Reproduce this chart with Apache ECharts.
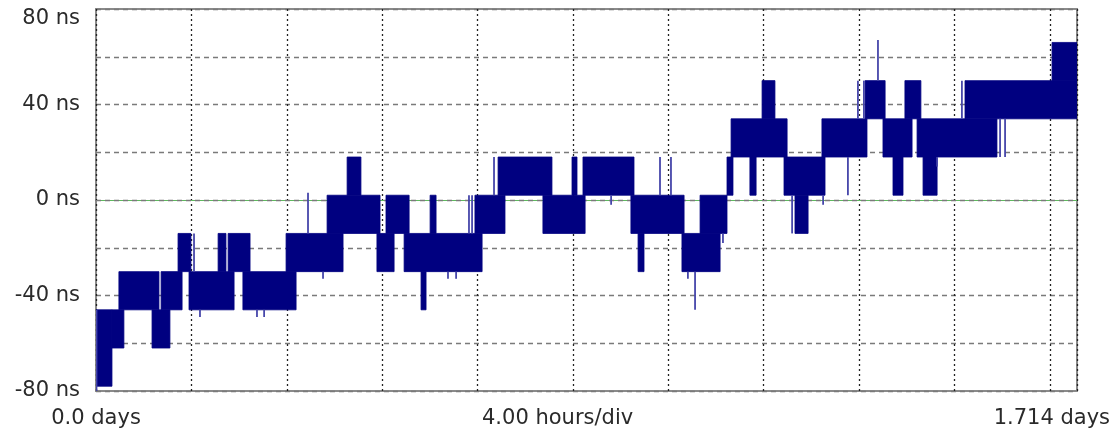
<!DOCTYPE html>
<html>
<head>
<meta charset="utf-8">
<script src="https://cdn.jsdelivr.net/npm/echarts@6/dist/echarts.min.js"></script>
<style>
  html, body { margin: 0; padding: 0; background: #fff; }
  #chart { width: 1116px; height: 435px; }
</style>
</head>
<body>
<div id="chart"></div>
<script>
// Time offset record: elapsed hours on x, offset in ns on y.
// The offset flips rapidly between two adjacent quantisation levels,
// so each dense run is kept as a band: [startHour, endHour, lowNs, highNs].
const spanHours = 41.136;          // 1.714 days
const hourTicks = 4;               // 4.00 hours/div
const yTickLabels = [-80, -40, 0, 40, 80];

const bands = [
  [0.00, 0.67, -78, -46],
  [0.67, 1.17, -62, -46],
  [0.96, 2.64, -46, -30],
  [2.35, 3.10, -62, -46],
  [2.73, 3.61, -46, -30],
  [3.44, 3.98, -30, -14],
  [3.90, 5.79, -46, -30],
  [5.12, 5.45, -30, -14],
  [5.54, 6.46, -30, -14],
  [6.16, 8.39, -46, -30],
  [7.97, 10.36, -30, -14],
  [9.69, 11.91, -14, 2],
  [10.53, 11.11, 2, 18],
  [11.78, 12.50, -30, -14],
  [12.16, 13.13, -14, 2],
  [12.92, 16.19, -30, -14],
  [13.63, 13.84, -46, -30],
  [14.01, 14.26, -14, 2],
  [15.89, 17.15, -14, 2],
  [16.86, 19.12, 2, 18],
  [18.74, 20.51, -14, 2],
  [19.96, 20.17, 2, 18],
  [20.42, 22.56, 2, 18],
  [22.43, 24.66, -14, 2],
  [22.73, 22.98, -30, -14],
  [24.57, 26.17, -30, -14],
  [25.33, 26.46, -14, 2],
  [26.46, 26.71, 2, 18],
  [26.63, 28.98, 18, 34],
  [27.93, 28.47, 34, 50],
  [27.42, 27.68, 2, 18],
  [28.85, 30.57, 2, 18],
  [29.31, 29.86, -14, 2],
  [30.44, 32.33, 18, 34],
  [32.25, 33.09, 34, 50],
  [33.00, 34.22, 18, 34],
  [33.42, 33.84, 2, 18],
  [33.92, 34.59, 34, 50],
  [34.43, 37.78, 18, 34],
  [34.68, 35.27, 2, 18],
  [36.44, 41.136, 34, 50],
  [40.09, 41.136, 50, 66]
];

// Isolated excursions: [hour, lowNs, highNs]
const spikes = [
  [0.02, -80, -46],
  [4.11, -30, -14],
  [4.36, -49, -46],
  [6.75, -49, -46],
  [7.05, -49, -46],
  [8.89, -14, 3],
  [9.52, -33, -30],
  [14.76, -33, -30],
  [15.10, -33, -30],
  [15.64, -14, 2],
  [15.77, -14, 2],
  [16.69, 2, 18],
  [21.60, -2, 2],
  [23.65, 2, 18],
  [24.11, 2, 18],
  [24.82, -33, -30],
  [25.12, -46, -30],
  [26.29, -18, -14],
  [29.19, -14, 2],
  [30.49, -2, 2],
  [31.53, 2, 18],
  [31.95, 34, 50],
  [32.20, 34, 50],
  [32.79, 50, 67],
  [35.27, 14, 18],
  [36.31, 34, 50],
  [37.91, 18, 34],
  [38.12, 18, 34]
];

const FONT = '"DejaVu Sans", "Liberation Sans", sans-serif';
const TEXT = '#2a2a2a';
const NAVY = '#000080';

const chart = echarts.init(document.getElementById('chart'), null, { renderer: 'canvas' });

chart.setOption({
  backgroundColor: '#ffffff',
  animation: false,
  grid: {
    left: 96, right: 39, top: 9, bottom: 44,
    show: true, borderColor: '#8a8a8a', borderWidth: 2, backgroundColor: 'transparent'
  },
  xAxis: {
    type: 'value',
    min: 0, max: spanHours, interval: hourTicks,
    z: 0,
    axisLine: { show: false },
    axisTick: { show: false },
    splitLine: { show: true, lineStyle: { color: '#222', width: 1.3, type: [2, 3] } },
    axisLabel: {
      margin: 17,
      fontFamily: FONT, fontSize: 21, color: TEXT,
      formatter: v => (v === 0 ? '0.0 days' : '')
    }
  },
  yAxis: {
    type: 'value',
    min: -80, max: 80, interval: 20,
    z: 0,
    axisLine: { show: false },
    axisTick: { show: false },
    splitLine: { show: true, lineStyle: { color: '#7a7a7a', width: 1.3, type: [5, 4] } },
    axisLabel: {
      margin: 16,
      fontFamily: FONT, fontSize: 21, color: TEXT,
      formatter: v => {
        if (!yTickLabels.includes(v)) return '';
        return v === 80 ? '{top|80 ns}' : v + ' ns';
      },
      rich: {
        top: { fontFamily: FONT, fontSize: 21, color: TEXT, padding: [20, 0, 0, 0] }
      }
    }
  },
  graphic: [
    {
      type: 'text', left: 482, top: 408, silent: true,
      style: { text: '4.00 hours/div', font: '21px ' + FONT, fill: TEXT }
    },
    {
      type: 'text', right: 6, top: 408, silent: true,
      style: { text: '1.714 days', font: '21px ' + FONT, fill: TEXT }
    }
  ],
  series: [
    {
      // zero reference line
      type: 'line',
      data: [],
      silent: true,
      z: 1,
      markLine: {
        symbol: 'none', silent: true, label: { show: false },
        data: [
          { yAxis: 0, lineStyle: { color: '#5fb85f', width: 1.2, type: 'solid' } },
          { yAxis: 0, lineStyle: { color: '#7a7a7a', width: 1.2, type: [5, 4] } }
        ]
      }
    },
    {
      type: 'custom',
      name: 'bands',
      data: bands,
      encode: { x: [0, 1], y: [2, 3] },
      clip: true,
      zlevel: 1,
      z: 10,
      renderItem: (params, api) => {
        const p1 = api.coord([api.value(0), api.value(3)]);
        const p2 = api.coord([api.value(1), api.value(2)]);
        return {
          type: 'rect',
          shape: { x: p1[0], y: p1[1], width: Math.max(p2[0] - p1[0], 1), height: p2[1] - p1[1] },
          style: { fill: NAVY, stroke: NAVY, lineWidth: 0.8 }
        };
      }
    },
    {
      type: 'custom',
      name: 'spikes',
      data: spikes,
      encode: { x: 0, y: [1, 2] },
      clip: true,
      zlevel: 1,
      z: 11,
      renderItem: (params, api) => {
        const a = api.coord([api.value(0), api.value(1)]);
        const b = api.coord([api.value(0), api.value(2)]);
        return {
          type: 'line',
          shape: { x1: a[0], y1: a[1], x2: b[0], y2: b[1] },
          style: { stroke: '#4646aa', lineWidth: 1.8 }
        };
      }
    }
  ]
});
</script>
</body>
</html>
